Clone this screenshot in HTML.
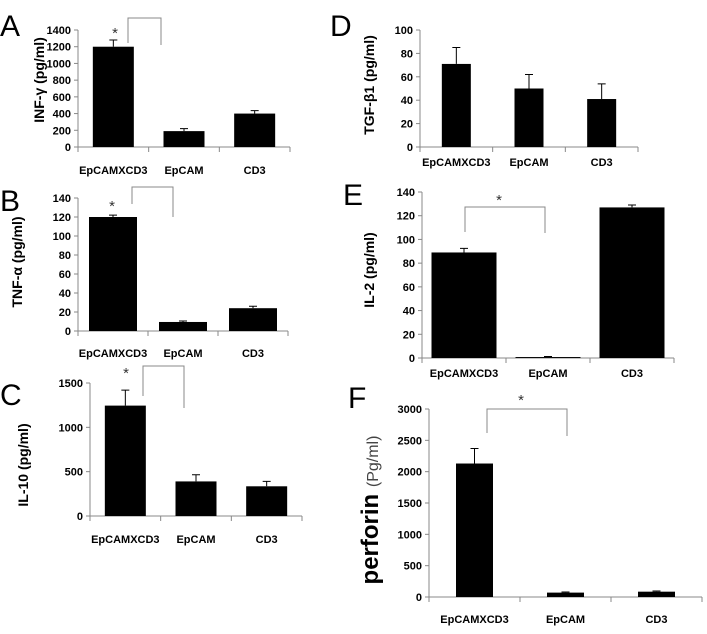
<!DOCTYPE html>
<html><head><meta charset="utf-8"><style>
body{margin:0;background:#fff;width:707px;height:634px;overflow:hidden}
svg{display:block;font-family:"Liberation Sans",Arial,sans-serif}
.t{font-size:11px;font-weight:bold;fill:#000}
.L{font-size:30px;fill:#000}
</style></head><body>
<svg id="fig" width="707" height="634"></svg>
<script>
const categories=["EpCAMXCD3","EpCAM","CD3"];
const aVals=[1200,190,400], aErr=[80,30,35], aTicks=[0,200,400,600,800,1000,1200,1400];
const bVals=[120,9.5,24], bErr=[2,1,2], bTicks=[0,20,40,60,80,100,120,140];
const cVals=[1245,390,335], cErr=[175,75,55], cTicks=[0,500,1000,1500];
const dVals=[71,50,41], dErr=[14,12,13], dTicks=[0,20,40,60,80,100];
const eVals=[89,0.8,127], eErr=[3.5,0.5,2], eTicks=[0,20,40,60,80,100,120,140];
const fVals=[2130,70,85], fErr=[240,10,10], fTicks=[0,500,1000,1500,2000,2500,3000];

const NS="http://www.w3.org/2000/svg", svg=document.getElementById("fig");
function mk(tag,at,parent,txt){const e=document.createElementNS(NS,tag);for(const k in at)e.setAttribute(k,at[k]);if(txt!==undefined)e.textContent=txt;(parent||svg).appendChild(e);return e;}

const panels=[
 {id:"a",letter:"A",lx:0,ly:36,vals:aVals,err:aErr,ticks:aTicks,x0:78,x1:290,y0:147,y1:30,bw:41,labY:174,title:"INF-γ (pg/ml)",tx:44,ty:80,br:[128,161,43,18,45],star:[115,38]},
 {id:"b",letter:"B",lx:0,ly:211,vals:bVals,err:bErr,ticks:bTicks,x0:78,x1:288,y0:331,y1:198,bw:48,labY:357,title:"TNF-α (pg/ml)",tx:22,ty:262,br:[132,173,204,187,217],star:[112,211]},
 {id:"c",letter:"C",lx:0,ly:405,vals:cVals,err:cErr,ticks:cTicks,x0:90,x1:302,y0:516,y1:383,bw:41,labY:543,title:"IL-10 (pg/ml)",tx:28,ty:465,br:[143,184,396,366,408],star:[126,378]},
 {id:"d",letter:"D",lx:330,ly:36,vals:dVals,err:dErr,ticks:dTicks,x0:420,x1:638,y0:147,y1:30,bw:29,labY:166,title:"TGF-β1 (pg/ml)",tx:374,ty:85,br:null},
 {id:"e",letter:"E",lx:343,ly:205,vals:eVals,err:eErr,ticks:eTicks,x0:422,x1:674,y0:358,y1:192,bw:65,labY:377,title:"IL-2 (pg/ml)",tx:374,ty:270,br:[465,545,232,207,233],star:[499,205]},
 {id:"f",letter:"F",lx:348,ly:408,vals:fVals,err:fErr,ticks:fTicks,x0:429,x1:702,y0:597,y1:409,bw:37,labY:623,title:null,tx:378,ty:510,br:[487,567,433,409,436],star:[521,405]}
];

panels.forEach(p=>{
 const g=mk("g",{});
 
 
 const L=mk("text",{x:p.lx,y:p.ly,class:"L"},g,p.letter);
 
 
 const max=p.ticks[p.ticks.length-1];
 const y=v=>p.y0-(v/max)*(p.y0-p.y1);
 const n=categories.length, step=(p.x1-p.x0)/n;
 const xc=i=>p.x0+step*(i+0.5);
 const ax=mk("line",{x1:p.x0,y1:p.y1,x2:p.x0,y2:p.y0,stroke:"#888"},g);
 
 
 const xx=mk("line",{x1:p.x0,y1:p.y0,x2:p.x1,y2:p.y0,stroke:"#888"},g);
 
 
 p.ticks.forEach(t=>{
  mk("line",{x1:p.x0-4,y1:y(t),x2:p.x0,y2:y(t),stroke:"#888"},g);
  const tl=mk("text",{x:p.x0-7,y:y(t)+4,class:"t","text-anchor":"end"},g,t);
  
  
 });
 for(let i=0;i<=n;i++)mk("line",{x1:p.x0+step*i,y1:p.y0,x2:p.x0+step*i,y2:p.y0+5,stroke:"#888"},g);
 categories.forEach((c,i)=>{
  const b=mk("rect",{x:xc(i)-p.bw/2,y:y(p.vals[i]),width:p.bw,height:p.y0-y(p.vals[i]),fill:"#000"},g);
  
  
  const top=y(p.vals[i]+p.err[i]);
  const e=mk("path",{d:`M${xc(i)},${y(p.vals[i])}V${top}M${xc(i)-4},${top}H${xc(i)+4}`,stroke:"#000","stroke-width":1,fill:"none"},g);
  
  
  const cl=mk("text",{x:xc(i),y:p.labY,class:"t","text-anchor":"middle"},g,c);
  
  
 });
 if(p.br){
  const [a,b2,ya,yt,yb]=p.br;
  const br=mk("path",{d:`M${a},${ya}V${yt}H${b2}V${yb}`,stroke:"#888",fill:"none"},g);
  
  
  const st=mk("text",{x:p.star[0],y:p.star[1],"font-size":"15","text-anchor":"middle",fill:"#333"},g,"*");
  
  
 }
 let tt;
 if(p.title){
  tt=mk("text",{x:0,y:0,transform:`translate(${p.tx},${p.ty}) rotate(-90)`,"font-size":"14","font-weight":"bold","text-anchor":"middle"},g,p.title);
 }else{
  tt=mk("text",{x:0,y:0,transform:`translate(${p.tx},${p.ty}) rotate(-90)`,"text-anchor":"middle"},g);
  mk("tspan",{"font-size":"24","font-weight":"bold"},tt,"perforin ");
  mk("tspan",{"font-size":"16",fill:"#444"},tt,"(Pg/ml)");
 }
 
 
});
</script>
</body></html>
